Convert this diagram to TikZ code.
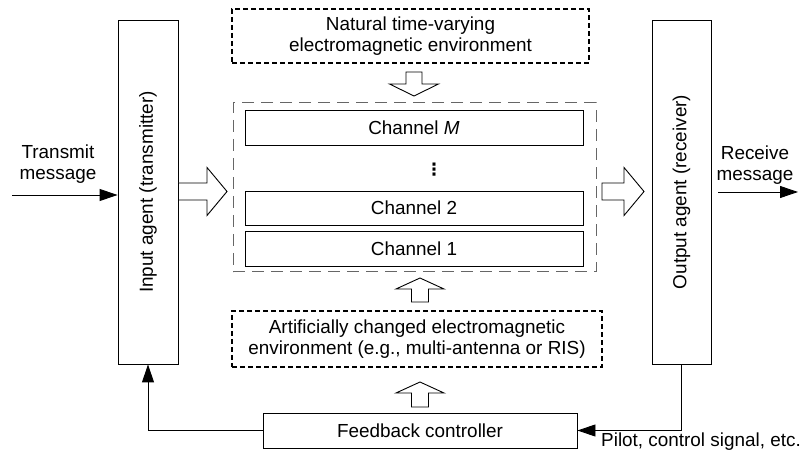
\documentclass[tikz,border=0pt]{standalone}
\usepackage{fontspec}
\setmainfont{Liberation Sans}
\usetikzlibrary{arrows.meta,calc}
\newfontfamily\dvsans{DejaVu Sans}
\tikzset{
  box/.style={draw=black, line width=0.9pt, rectangle, inner sep=0pt, align=center},
  envbox/.style={draw=black, line width=1.8pt, dash pattern=on 5pt off 3pt, rectangle, inner sep=0pt, align=center},
  contbox/.style={draw=black!60, line width=1pt, dash pattern=on 12pt off 7pt, rectangle, inner sep=0pt},
  lbl/.style={align=center, inner sep=0pt},
  arr/.style={line width=0.9pt, -{Triangle[length=18pt,width=12pt]}},
  blk/.style={draw=black, line width=0.9pt, fill=white, line join=miter}
}
\newcommand\harrow[2]{\draw[blk] let \p1=(#1), \p2=(#2) in
  (\x1,\y2+8.5pt) -- (\x2-20pt,\y2+8.5pt) -- (\x2-20pt,\y2+24pt) -- (\x2,\y2)
  -- (\x2-20pt,\y2-24pt) -- (\x2-20pt,\y2-8.5pt) -- (\x1,\y2-8.5pt) -- cycle;}
\newcommand\uparrowblk[2]{\draw[blk] let \p1=(#1), \p2=(#2) in
  (\x2-8.5pt,\y1) -- (\x2-8.5pt,\y2-11pt) -- (\x2-24pt,\y2-11pt) -- (\x2,\y2)
  -- (\x2+24pt,\y2-11pt) -- (\x2+8.5pt,\y2-11pt) -- (\x2+8.5pt,\y1) -- cycle;}
\newcommand\downarrowblk[2]{\draw[blk] let \p1=(#1), \p2=(#2) in
  (\x2-8pt,\y1) -- (\x2-8pt,\y2+12pt) -- (\x2-24.5pt,\y2+12pt) -- (\x2,\y2)
  -- (\x2+24.5pt,\y2+12pt) -- (\x2+8pt,\y2+12pt) -- (\x2+8pt,\y1) -- cycle;}
\begin{document}
\begin{tikzpicture}[x=1pt,y=-1pt,font=\fontsize{18.9}{21.7}\selectfont]
\useasboundingbox (0,0) rectangle (804,462);
% main boxes
\node[box, minimum width=60, minimum height=344] (in) at (148,192) {};
\node[rotate=90, lbl] (inl) at (in.center) {Input agent (transmitter)};
\node[box, minimum width=59, minimum height=344] (out) at (681.5,192) {};
\node[rotate=90, lbl] (outl) at (out.center) {Output agent (receiver)};
\node[envbox, minimum width=357, minimum height=54] (nat) at (410.5,36) {Natural time-varying\\electromagnetic environment};
\node[contbox, minimum width=363, minimum height=169] (cont) at (414.5,187.5) {};
\node[box, minimum width=338, minimum height=35] (chM) at (414,127.5) {Channel \textit{M}};
\node[lbl] (dots) at (434,170) {\dvsans\fontsize{17}{17}\selectfont\bfseries ⋮};
\node[box, minimum width=338, minimum height=34] (ch2) at (414,208) {Channel 2};
\node[box, minimum width=338, minimum height=35] (ch1) at (414,248.5) {Channel 1};
\node[envbox, minimum width=370, minimum height=56] (art) at (417,339) {Artificially changed electromagnetic\\environment (e.g., multi-antenna or RIS)};
\node[box, minimum width=314, minimum height=35] (fb) at (420,430.5) {Feedback controller};
% labels
\node[lbl] (tm) at (58,164) {Transmit\\message};
\node[lbl] (rm) at (755,165) {Receive\\message};
\node[lbl, anchor=base] (pilot) at (701,447) {Pilot, control signal, etc.};
% free ends
\coordinate (tmstart) at (12,195);
\coordinate (rmstart) at (718,192);
\coordinate (rmend) at (798,192);
\coordinate (latip) at (227,191.5);
\coordinate (rastart) at (602,191.5);
\coordinate (ratip) at (644,191.5);
\coordinate (dastart) at (414,72);
\coordinate (datip) at (414,96);
\coordinate (u1start) at (420,302);
\coordinate (u1tip) at (420,278);
\coordinate (u2start) at (420,407);
\coordinate (u2tip) at (420,382);
% connectors
\draw[arr] (tmstart) -- (tmstart -| in.west);
\draw[arr] (rmstart) -- (rmend);
\draw[arr] (out.south) -- (out.south |- fb.east) -- (fb.east);
\draw[arr] (fb.west) -- (fb.west -| in.south) -- (in.south);
% block arrows
\harrow{in.east}{latip}
\harrow{rastart}{ratip}
\downarrowblk{dastart}{datip}
\uparrowblk{u1start}{u1tip}
\uparrowblk{u2start}{u2tip}
\end{tikzpicture}
\end{document}
